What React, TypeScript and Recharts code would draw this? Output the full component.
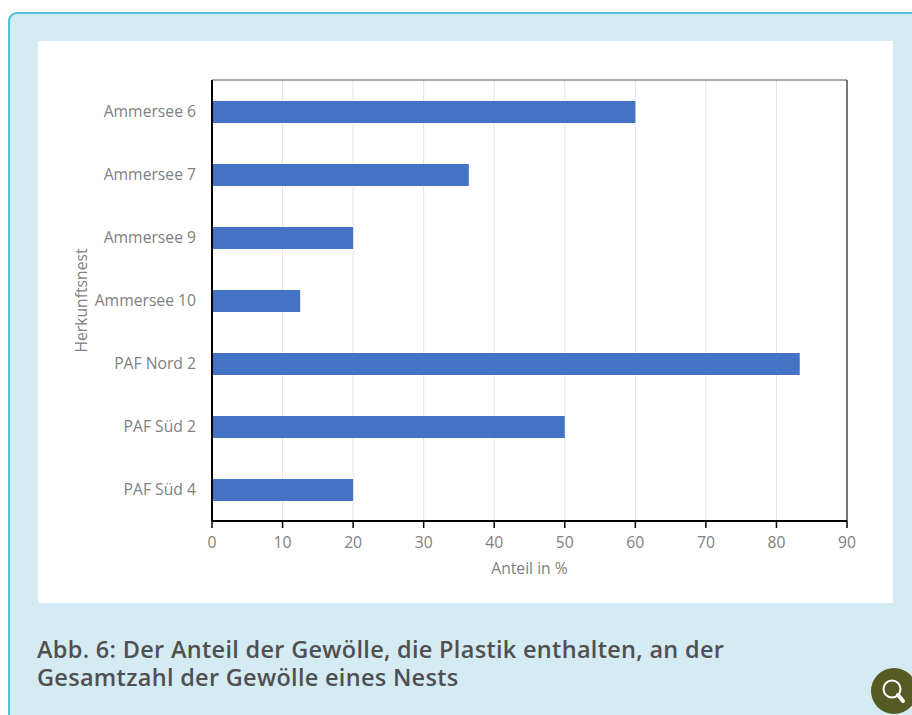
import React from "react";
import { BarChart, Bar, XAxis, YAxis, CartesianGrid } from "recharts";

const categories = ["Ammersee 6", "Ammersee 7", "Ammersee 9", "Ammersee 10", "PAF Nord 2", "PAF Süd 2", "PAF Süd 4"];
const shares = [60, 36.4, 20, 12.5, 83.3, 50, 20];
const xTicks = [0, 10, 20, 30, 40, 50, 60, 70, 80, 90];
const captionLines = ["Abb. 6: Der Anteil der Gewölle, die Plastik enthalten, an der", "Gesamtzahl der Gewölle eines Nests"];

const rows = categories.map((name, i) => ({ name, share: shares[i] }));
const font = "'Open Sans', sans-serif";
const tickStyle = { fontFamily: font, fontSize: 15.7, fill: "#808080" };

export default function App() {
  return (
    <div style={{ position: "absolute", left: 0, top: 0, width: 912, height: 715, overflow: "hidden", background: "#fff" }}>
      <div style={{ position: "absolute", left: 8, top: 12, width: 940, height: 740, boxSizing: "border-box", background: "#d5ebf4", border: "2px solid #4fc3dc", borderRadius: 9 }} />
      <div style={{ position: "absolute", left: 38, top: 41, width: 855, height: 562, background: "#fff" }}>
        <BarChart
          width={855}
          height={562}
          layout="vertical"
          data={rows}
          barSize={22}
          margin={{ top: 38, right: 45, bottom: 0, left: 34 }}
        >
          <CartesianGrid horizontal={false} stroke="#e3e3e3" strokeWidth={1} />
          <XAxis
            type="number"
            dataKey="share"
            domain={[0, 90]}
            ticks={xTicks}
            interval={0}
            height={82}
            stroke="#000"
            tickSize={7}
            tick={tickStyle}
            axisLine={{ stroke: "#000", strokeWidth: 2 }}
            tickLine={{ stroke: "#000", strokeWidth: 1.5 }}
            tickMargin={9}
            label={{ value: "Anteil in %", position: "insideTop", offset: 42, style: tickStyle }}
          />
          <XAxis
            xAxisId="frameTop"
            orientation="top"
            type="number"
            domain={[0, 90]}
            height={1}
            tick={false}
            tickLine={false}
            axisLine={{ stroke: "#555", strokeWidth: 1 }}
          />
          <YAxis
            type="category"
            dataKey="name"
            width={140}
            interval={0}
            tick={tickStyle}
            tickSize={0}
            tickMargin={16}
            axisLine={{ stroke: "#000", strokeWidth: 2 }}
            label={{ value: "Herkunftsnest", angle: -90, position: "insideLeft", offset: 9, style: { ...tickStyle, textAnchor: "middle" } }}
          />
          <YAxis
            yAxisId="frameRight"
            orientation="right"
            type="category"
            dataKey="name"
            width={1}
            tick={false}
            tickLine={false}
            axisLine={{ stroke: "#000", strokeWidth: 1 }}
          />
          <Bar dataKey="share" xAxisId="frameTop" yAxisId="frameRight" fill="none" isAnimationActive={false} />
          <Bar dataKey="share" fill="#4472c4" isAnimationActive={false} />
        </BarChart>
      </div>
      <div style={{ position: "absolute", left: 37, top: 635, fontFamily: "'Open Sans', sans-serif", fontWeight: 600, fontSize: 23.5, letterSpacing: 0.3, lineHeight: "28px", color: "#505050", whiteSpace: "nowrap" }}>
        {captionLines.map((l) => (
          <div key={l}>{l}</div>
        ))}
      </div>
      <svg style={{ position: "absolute", left: 866, top: 664 }} width={46} height={51}>
        <circle cx={28} cy={27} r={23} fill="#555b22" />
        <circle cx={26} cy={25} r={8.5} fill="none" stroke="#fff" strokeWidth={2} />
        <line x1={32} y1={31} x2={37} y2={37} stroke="#fff" strokeWidth={4} strokeLinecap="round" />
      </svg>
    </div>
  );
}
